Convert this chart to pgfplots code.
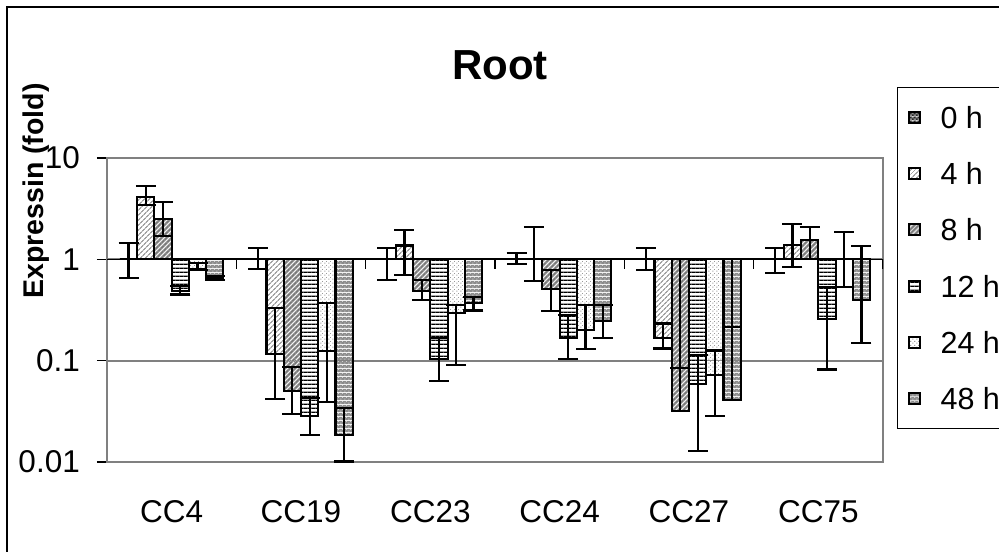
\documentclass[border=0pt]{standalone}
\usepackage{pgfplots}
\pgfplotsset{compat=1.18}
\usepackage{fontspec}
\setmainfont{Liberation Sans}
\usetikzlibrary{patterns.meta}

\tikzdeclarepattern{name=pZero, type=colored,
  bottom left={(0bp,0bp)}, top right={(4bp,4bp)}, tile size={(4bp,4bp)},
  code={\fill[black!45] (0bp,0bp) rectangle (4bp,4bp);
        \fill[black!85] (0bp,0bp) rectangle (2bp,2bp);
        \fill[black!85] (2bp,2bp) rectangle (4bp,4bp);}}
\tikzdeclarepattern{name=pFour, type=colored,
  bottom left={(0bp,0bp)}, top right={(3.5bp,3.5bp)}, tile size={(3.5bp,3.5bp)},
  tile transformation={rotate=45},
  code={\fill[white] (-0.1bp,-0.1bp) rectangle (3.6bp,3.6bp);
        \draw[black!55, line width=1bp] (-0.2bp,1.75bp) -- (3.7bp,1.75bp);}}
\tikzdeclarepattern{name=pEight, type=colored,
  bottom left={(0bp,0bp)}, top right={(3.5bp,3.5bp)}, tile size={(3.5bp,3.5bp)},
  tile transformation={rotate=45},
  code={\fill[black!33] (-0.1bp,-0.1bp) rectangle (3.6bp,3.6bp);
        \draw[black!62, line width=1bp] (-0.2bp,1.75bp) -- (3.7bp,1.75bp);}}
\tikzdeclarepattern{name=pTwelve, type=colored,
  bottom left={(0bp,0bp)}, top right={(4.2bp,4.2bp)}, tile size={(4.2bp,4.2bp)},
  code={\fill[white] (0bp,0bp) rectangle (4.2bp,4.2bp);
        \draw[black, line width=1.3bp] (-0.1bp,2.1bp) -- (4.3bp,2.1bp);}}
\tikzdeclarepattern{name=pTwentyFour, type=colored,
  bottom left={(0bp,0bp)}, top right={(4bp,4bp)}, tile size={(4bp,4bp)},
  code={\fill[white] (0bp,0bp) rectangle (4bp,4bp);
        \fill[black!40] (0.5bp,0.5bp) rectangle (1.6bp,1.6bp);
        \fill[black!40] (2.5bp,2.5bp) rectangle (3.6bp,3.6bp);}}
\tikzdeclarepattern{name=pFortyEight, type=colored,
  bottom left={(0bp,0bp)}, top right={(4bp,4bp)}, tile size={(4bp,4bp)},
  code={\fill[black!45] (0bp,0bp) rectangle (4bp,4bp);
        \fill[black!18] (0.5bp,0.5bp) rectangle (1.6bp,1.6bp);
        \fill[black!18] (2.5bp,2.5bp) rectangle (3.6bp,3.6bp);}}

\pgfplotsset{
  every axis plot post/.append style={
    legend image code/.code={\draw[#1, draw=black, line width=2bp] (0bp,-5.5bp) rectangle (11bp,5.5bp);}},
  barpoly/.style={draw=black, line width=2.1bp, line join=miter},
  errs/.style={forget plot, draw=none, mark=none,
    /pgfplots/error bars/y dir=both, /pgfplots/error bars/y explicit,
    /pgfplots/error bars/error bar style={draw=black, line width=2.2bp},
    /pgfplots/error bars/error mark options={rotate=90, draw=black, line width=2.2bp, mark size=10bp}},
  errup/.style={errs, /pgfplots/error bars/y dir=plus},
}

\begin{document}
\begin{tikzpicture}
\useasboundingbox (0,0) rectangle (999bp,552bp);
\draw[black, line width=1.2bp] (7bp,-10bp) -- (7bp,545bp) -- (1010bp,545bp);
\begin{axis}[
  at={(107bp,90bp)}, anchor=south west,
  scale only axis, width=776bp, height=304bp,
  ymode=log, ymin=0.01, ymax=10, xmin=-0.5, xmax=5.5,
  xtick={0,1,2,3,4,5},
  xticklabels={CC4,CC19,CC23,CC24,CC27,CC75},
  ytick={0.01,0.1,1,10},
  yticklabels={0.01,0.1,1,10},
  yminorticks=false,
  ytick pos=left,
  tick align=outside, major tick length=10bp,
  major x tick style={draw=none},
  y tick style={black, line width=1.4bp},
  axis line style={black!50, line width=2.8bp},
  ymajorgrids, grid style={black!50, line width=1.8bp},
  ticklabel style={font=\fontsize{31.5bp}{36bp}\selectfont},
  xticklabel style={anchor=north, inner sep=0bp, yshift=-28bp},
  yticklabel style={anchor=east, inner sep=0bp, xshift=-17bp},
  title={Root},
  title style={font=\fontsize{42bp}{48bp}\selectfont\bfseries, at={(0.5064,1.2401)}, anchor=base, inner sep=0bp},
  ylabel={Expressin (fold)},
  ylabel style={font=\fontsize{28.5bp}{32bp}\selectfont\bfseries, at={(-0.0915,0.891)}, anchor=center, inner sep=0bp},
  legend cell align=left,
  legend style={at={(1.018,1.2336)}, anchor=north west, draw=black, line width=1.2bp, fill=white,
    font=\fontsize{30.5bp}{34bp}\selectfont, row sep=32.3bp, column sep=19bp,
    inner xsep=10bp, inner ysep=17.7bp,
    nodes={inner sep=1bp, text height=22bp, text depth=0bp}},
]
% ---- bars: each series is one outline hanging from / standing on 1 ----
% 0 h (all equal to 1)
\addplot[barpoly, pattern=pZero] coordinates {
  (-0.4,1) (-0.26667,1) (0.6,1) (0.73333,1) (1.6,1) (1.73333,1)
  (2.6,1) (2.73333,1) (3.6,1) (3.73333,1) (4.6,1) (4.73333,1)} -- cycle;
\addlegendentry{0 h}
% 4 h
\addplot[barpoly, pattern=pFour] coordinates {
  (-0.26667,1) (-0.26667,4.15) (-0.13333,4.15) (-0.13333,1)
  (0.73333,1) (0.73333,0.117) (0.86667,0.117) (0.86667,1)
  (1.73333,1) (1.73333,1.37) (1.86667,1.37) (1.86667,1)
  (2.73333,1) (2.73333,1.0) (2.86667,1.0) (2.86667,1)
  (3.73333,1) (3.73333,0.166) (3.86667,0.166) (3.86667,1)
  (4.73333,1) (4.73333,1.38) (4.86667,1.38) (4.86667,1)} -- cycle;
\addlegendentry{4 h}
% 8 h
\addplot[barpoly, pattern=pEight] coordinates {
  (-0.13333,1) (-0.13333,2.50) (0,2.50) (0,1)
  (0.86667,1) (0.86667,0.050) (1,0.050) (1,1)
  (1.86667,1) (1.86667,0.486) (2,0.486) (2,1)
  (2.86667,1) (2.86667,0.506) (3,0.506) (3,1)
  (3.86667,1) (3.86667,0.032) (4,0.032) (4,1)
  (4.86667,1) (4.86667,1.55) (5,1.55) (5,1)} -- cycle;
\addlegendentry{8 h}
% 12 h
\addplot[barpoly, pattern=pTwelve] coordinates {
  (0,1) (0,0.49) (0.13333,0.49) (0.13333,1)
  (1,1) (1,0.0284) (1.13333,0.0284) (1.13333,1)
  (2,1) (2,0.103) (2.13333,0.103) (2.13333,1)
  (3,1) (3,0.168) (3.13333,0.168) (3.13333,1)
  (4,1) (4,0.059) (4.13333,0.059) (4.13333,1)
  (5,1) (5,0.256) (5.13333,0.256) (5.13333,1)} -- cycle;
\addlegendentry{12 h}
% 24 h
\addplot[barpoly, pattern=pTwentyFour] coordinates {
  (0.13333,1) (0.13333,0.81) (0.26667,0.81) (0.26667,1)
  (1.13333,1) (1.13333,0.124) (1.26667,0.124) (1.26667,1)
  (2.13333,1) (2.13333,0.293) (2.26667,0.293) (2.26667,1)
  (3.13333,1) (3.13333,0.20) (3.26667,0.20) (3.26667,1)
  (4.13333,1) (4.13333,0.0716) (4.26667,0.0716) (4.26667,1)
  (5.13333,1) (5.13333,1.0) (5.26667,1.0) (5.26667,1)} -- cycle;
\addlegendentry{24 h}
% 48 h
\addplot[barpoly, pattern=pFortyEight] coordinates {
  (0.26667,1) (0.26667,0.66) (0.4,0.66) (0.4,1)
  (1.26667,1) (1.26667,0.0184) (1.4,0.0184) (1.4,1)
  (2.26667,1) (2.26667,0.373) (2.4,0.373) (2.4,1)
  (3.26667,1) (3.26667,0.246) (3.4,0.246) (3.4,1)
  (4.26667,1) (4.26667,0.0408) (4.4,0.0408) (4.4,1)
  (5.26667,1) (5.26667,0.396) (5.4,0.396) (5.4,1)} -- cycle;
\addlegendentry{48 h}
% ---- error bars at the bar centres (same values, plus / minus errors) ----
\addplot[errs] coordinates {
  (-0.33333,1) += (0,0.46) -= (0,0.35)
  (0.66667,1) += (0,0.29) -= (0,0.20)
  (1.66667,1) += (0,0.29) -= (0,0.38)
  (2.66667,1) += (0,0.146) -= (0,0.107)
  (3.66667,1) += (0,0.29) -= (0,0.22)
  (4.66667,1) += (0,0.30) -= (0,0.262)
};
\addplot[errs] coordinates {
  (-0.2,4.15) += (0,1.14) -= (0,0.70)
  (0.8,0.117) += (0,0.216) -= (0,0.0755)
  (1.8,1.37) += (0,0.58) -= (0,0.675)
  (2.8,1.0) += (0,1.1) -= (0,0.39)
  (3.8,0.166) += (0,0.067) -= (0,0.034)
  (4.8,1.38) += (0,0.87) -= (0,0.54)
};
\addplot[errs] coordinates {
  (-0.06667,2.50) += (0,1.15) -= (0,0.79)
  (0.93333,0.050) += (0,0.0365) -= (0,0.020)
  (1.93333,0.486) += (0,0.135) -= (0,0.09)
  (2.93333,0.506) += (0,0.274) -= (0,0.197)
  (4.93333,1.55) += (0,0.55) -= (0,0.55)
};
\addplot[errs] coordinates {
  (0.06667,0.49) += (0,0.055) -= (0,0.04)
  (1.06667,0.0284) += (0,0.0146) -= (0,0.010)
  (2.06667,0.103) += (0,0.065) -= (0,0.04)
  (3.06667,0.168) += (0,0.112) -= (0,0.065)
  (4.06667,0.059) += (0,0.0545) -= (0,0.0462)
  (5.06667,0.256) += (0,0.281) -= (0,0.174)
};
\addplot[errs] coordinates {
  (0.2,0.81) += (0,0.11) -= (0,0.02)
  (1.2,0.124) += (0,0.244) -= (0,0.085)
  (2.2,0.293) += (0,0.061) -= (0,0.2025)
  (3.2,0.20) += (0,0.154) -= (0,0.069)
  (4.2,0.0716) += (0,0.0544) -= (0,0.0432)
  (5.2,1.0) += (0,0.86) -= (0,0.463)
};
\addplot[errs] coordinates {
  (0.33333,0.66) += (0,0.03) -= (0,0.035)
  (1.33333,0.0184) += (0,0.0159) -= (0,0.0083)
  (2.33333,0.373) += (0,0.054) -= (0,0.06)
  (3.33333,0.246) += (0,0.108) -= (0,0.078)
  (5.33333,0.396) += (0,0.954) -= (0,0.246)
};
% CC27 8 h and 48 h: upper cap, whisker running on up to the baseline
\addplot[errup] coordinates {(3.93333,0.032) += (0,0.053)};
\addplot[errup] coordinates {(3.93333,0.032) += (0,0.968)};
\addplot[errup] coordinates {(4.33333,0.0408) += (0,0.174)};
\addplot[errup] coordinates {(4.33333,0.0408) += (0,0.9592)};
% category axis at 1
\draw[black, line width=1.6bp] (axis cs:-0.5,1) -- (axis cs:5.5,1);
\draw[black, line width=1.3bp]
  (axis cs:0.5,1) -- ++(0bp,-10bp)
  (axis cs:1.5,1) -- ++(0bp,-10bp)
  (axis cs:2.5,1) -- ++(0bp,-10bp)
  (axis cs:3.5,1) -- ++(0bp,-10bp)
  (axis cs:4.5,1) -- ++(0bp,-10bp)
  (axis cs:5.5,1) -- ++(0bp,-10bp);
\end{axis}
\end{tikzpicture}
\end{document}
